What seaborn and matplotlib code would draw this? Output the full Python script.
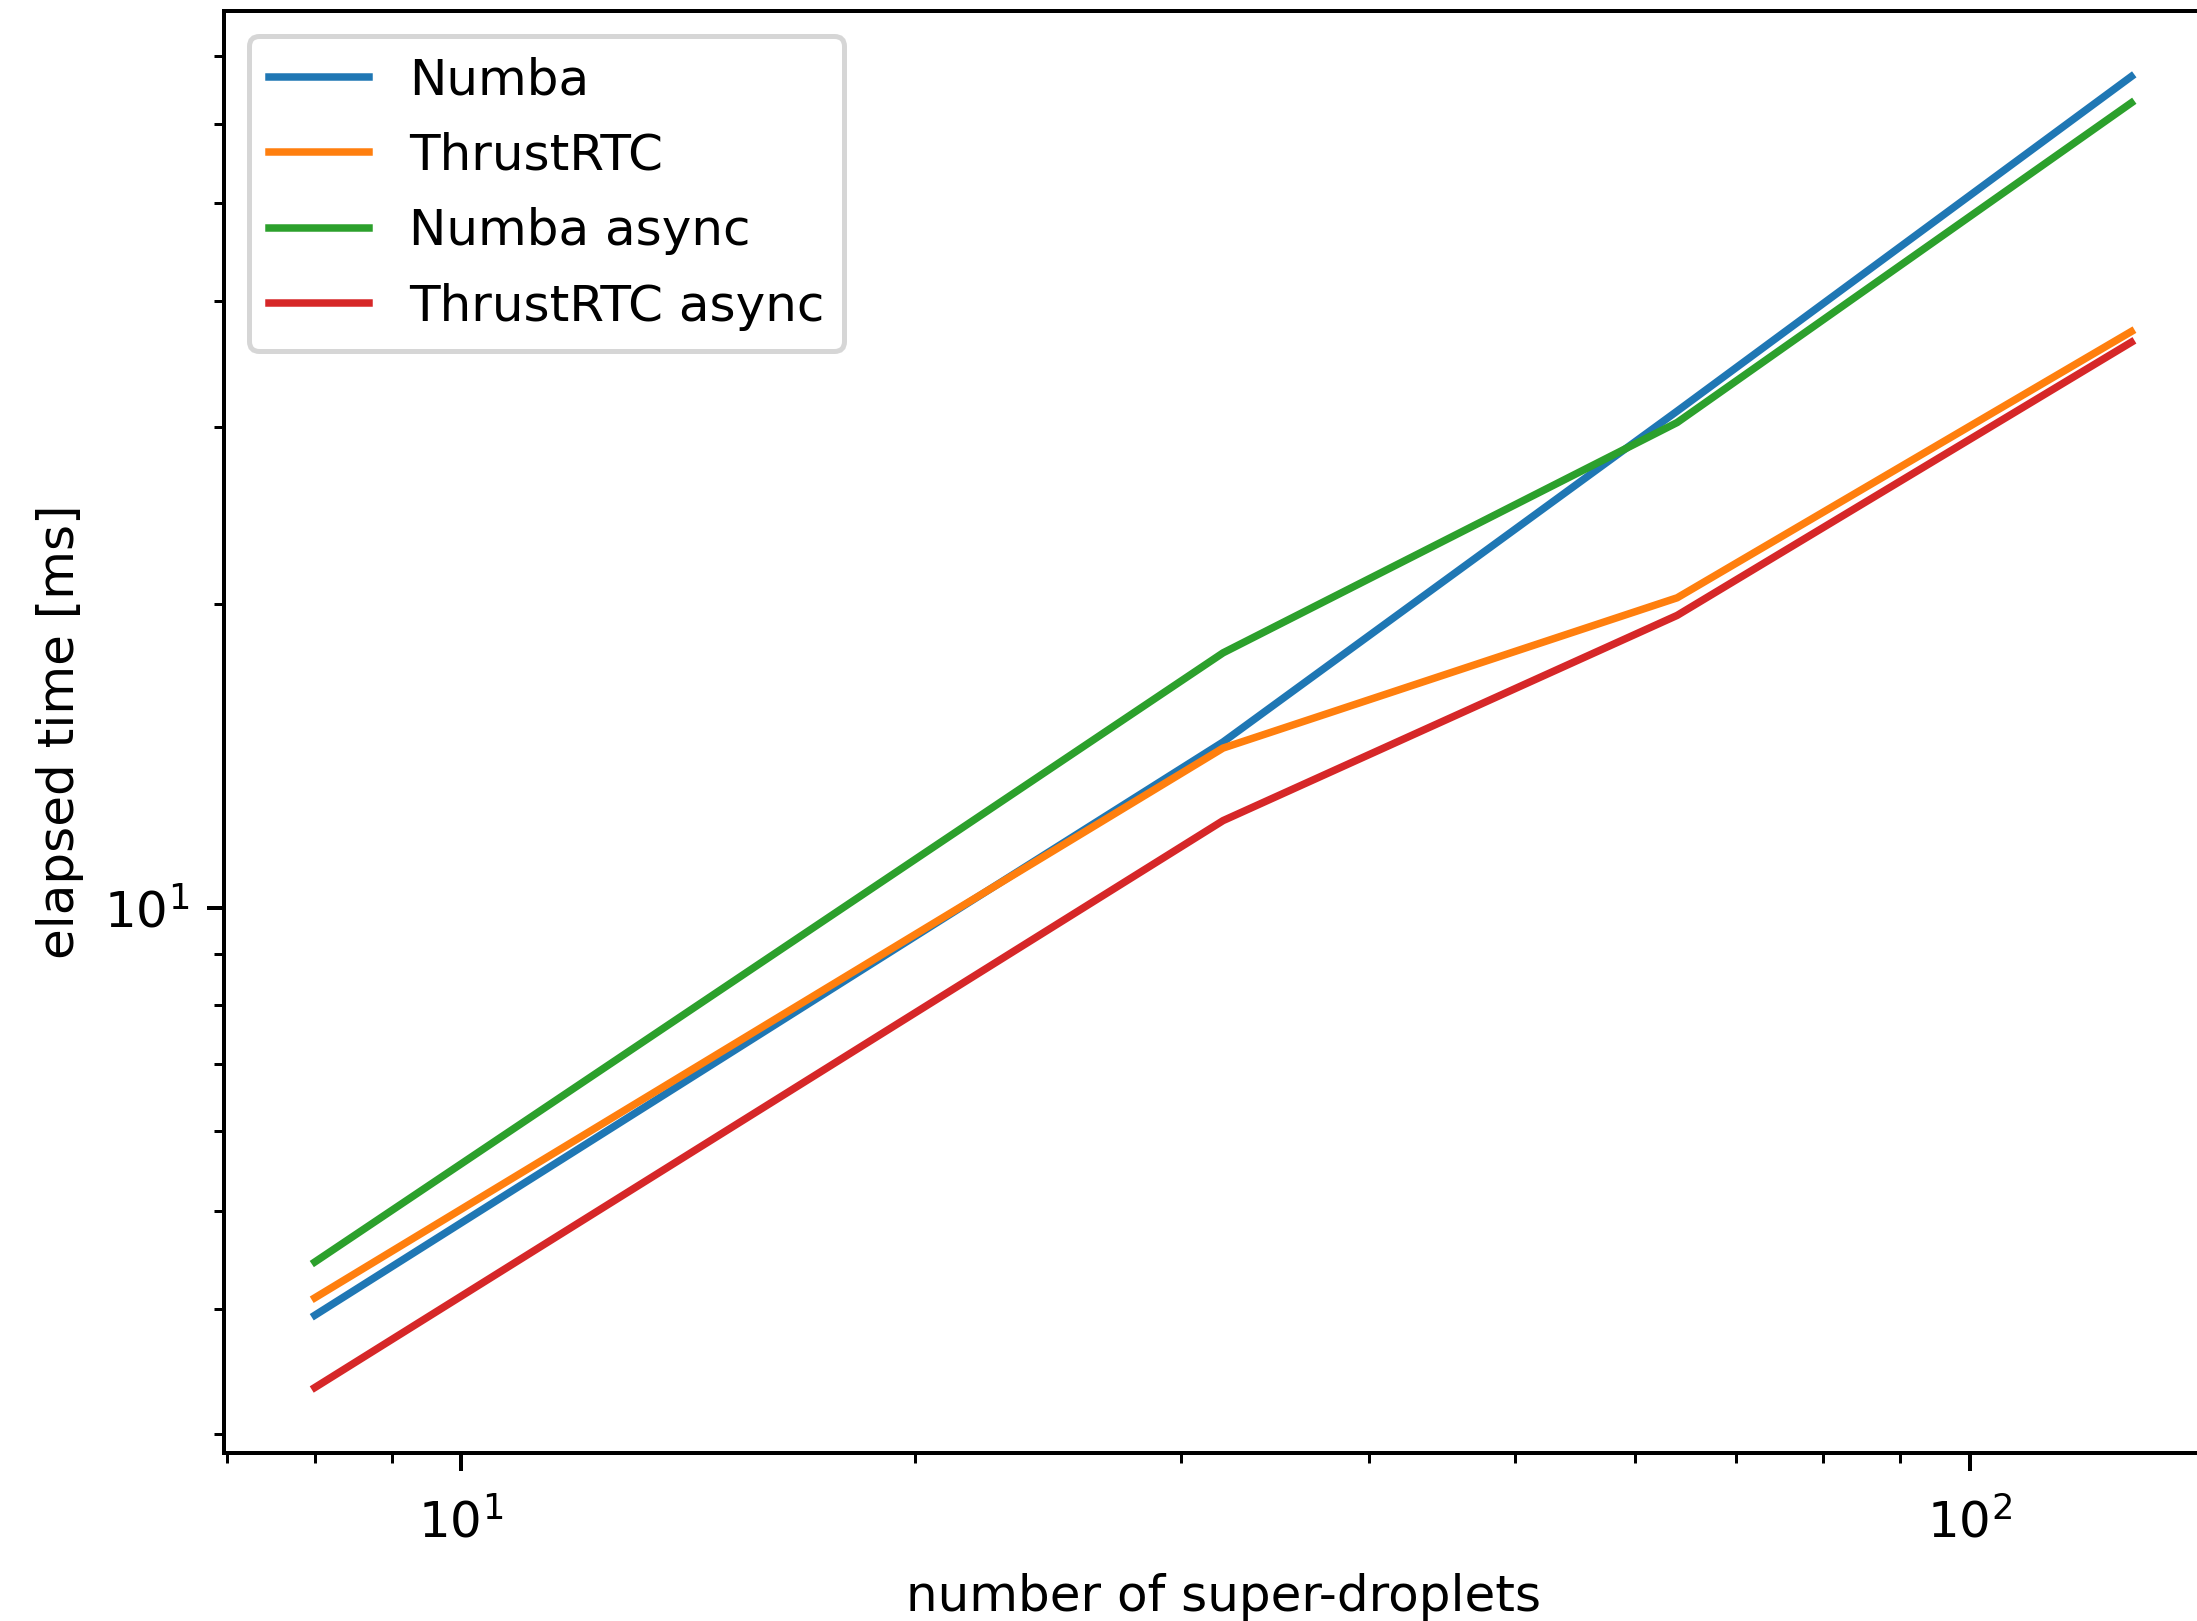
import matplotlib
matplotlib.use("Agg")
import matplotlib.pyplot as plt
import seaborn as sns
import pandas as pd

# Data
n_sd = [8, 32, 64, 128]
numba = [3.94, 14.6, 31.1, 66.8]
thrustrtc = [4.10, 14.4, 20.3, 37.3]
numba_async = [4.45, 17.9, 30.3, 62.9]
thrustrtc_async = [3.34, 12.2, 19.5, 36.4]
series_names = ["Numba", "ThrustRTC", "Numba async", "ThrustRTC async"]
colors = ["#1f77b4", "#ff7f0e", "#2ca02c", "#d62728"]

series = [numba, thrustrtc, numba_async, thrustrtc_async]
rows = []
for name, vals in zip(series_names, series):
    for x, y in zip(n_sd, vals):
        rows.append({"n": x, "t": y, "impl": name})
df = pd.DataFrame(rows)

dpi = 360
fig = plt.figure(figsize=(2197 / dpi, 1621 / dpi), dpi=dpi)
ax = fig.add_axes([0.102, 0.1036, 1.0114 - 0.102, 0.9932 - 0.1036])

for name, c in zip(series_names, colors):
    sub = df[df["impl"] == name]
    sns.lineplot(data=sub, x="n", y="t", ax=ax, color=c, label=name,
                 linewidth=1.5, estimator=None, sort=False)

ax.set_xscale("log")
ax.set_yscale("log")
ax.tick_params(axis="x", which="major", pad=5.5)
ax.set_xlabel("number of super-droplets", labelpad=5)
ax.set_ylabel("elapsed time [ms]")
ax.legend(loc="upper left", labelspacing=0.55)

fig.savefig("out.png", dpi=dpi)
